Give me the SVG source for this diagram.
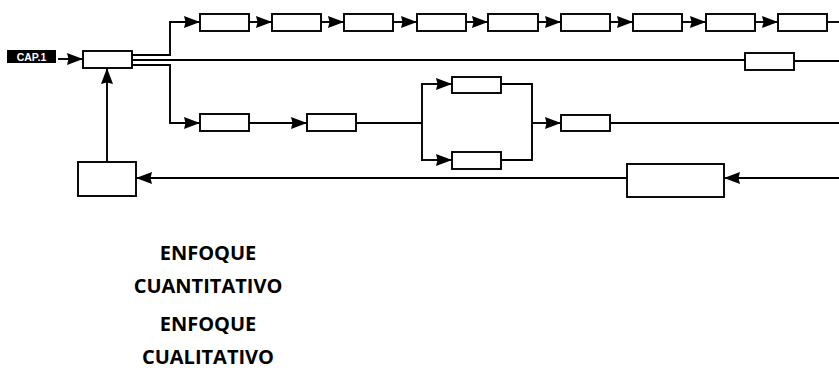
<svg xmlns="http://www.w3.org/2000/svg" width="839" height="375" viewBox="0 0 839 375">
<style>
.box{fill:#fff;stroke:#000;stroke-width:1.9}
.ln{fill:none;stroke:#000;stroke-width:1.9}
.lbl{font-family:"Open Sans","DejaVu Sans",sans-serif;font-weight:bold;font-size:20px;fill:#000;text-anchor:middle}
.cap{font-family:"Liberation Sans Narrow","Liberation Sans",sans-serif;font-weight:bold;font-size:10.5px;fill:#fff;text-anchor:middle}
</style>
<defs>
<marker id="ah" markerUnits="userSpaceOnUse" markerWidth="17" markerHeight="13" refX="16" refY="6.5" orient="auto" viewBox="0 0 17 13">
<path d="M0,0.5 L16,6.5 L0,12.5 L1.5,6.5 Z" fill="#000"/>
</marker>
</defs>
<rect width="839" height="375" fill="#fff"/>
<g id="connectors">
<line class="ln" x1="58" y1="59" x2="83" y2="59" marker-end="url(#ah)"/>
<polyline class="ln" points="132,55 170,55 170,22 200,22" marker-end="url(#ah)"/>
<line class="ln" x1="249" y1="22" x2="272" y2="22" marker-end="url(#ah)"/>
<line class="ln" x1="321" y1="22" x2="344" y2="22" marker-end="url(#ah)"/>
<line class="ln" x1="393" y1="22" x2="417" y2="22" marker-end="url(#ah)"/>
<line class="ln" x1="466" y1="22" x2="488" y2="22" marker-end="url(#ah)"/>
<line class="ln" x1="538" y1="22" x2="561" y2="22" marker-end="url(#ah)"/>
<line class="ln" x1="610" y1="22" x2="633" y2="22" marker-end="url(#ah)"/>
<line class="ln" x1="682" y1="22" x2="706" y2="22" marker-end="url(#ah)"/>
<line class="ln" x1="755" y1="22" x2="778" y2="22" marker-end="url(#ah)"/>
<line class="ln" x1="827" y1="22" x2="839" y2="22"/>
<line class="ln" x1="132" y1="60" x2="745" y2="60"/>
<line class="ln" x1="794" y1="61" x2="839" y2="61"/>
<polyline class="ln" points="132,65 170,65 170,123 200,123" marker-end="url(#ah)"/>
<line class="ln" x1="249" y1="123" x2="307" y2="123" marker-end="url(#ah)"/>
<line class="ln" x1="356" y1="123" x2="422" y2="123"/>
<line class="ln" x1="422" y1="84" x2="422" y2="161"/>
<line class="ln" x1="421" y1="84" x2="452" y2="84" marker-end="url(#ah)"/>
<line class="ln" x1="421" y1="160" x2="452" y2="160" marker-end="url(#ah)"/>
<polyline class="ln" points="501,84 532,84 532,160 501,160"/>
<line class="ln" x1="532" y1="123" x2="561" y2="123" marker-end="url(#ah)"/>
<line class="ln" x1="610" y1="123" x2="839" y2="123"/>
<line class="ln" x1="839" y1="178" x2="724" y2="178" marker-end="url(#ah)"/>
<line class="ln" x1="627" y1="178" x2="136" y2="178" marker-end="url(#ah)"/>
<line class="ln" x1="107" y1="162" x2="107" y2="68" marker-end="url(#ah)"/>
</g>
<g id="cap1"><rect x="7" y="50" width="49" height="13" fill="#000"/><text class="cap" x="31.5" y="60.5">CAP.1</text></g>
<g id="main"><rect class="box" x="83" y="51" width="49" height="17"/></g>
<g id="t1"><rect class="box" x="200" y="14" width="49" height="17"/></g>
<g id="t2"><rect class="box" x="272" y="14" width="49" height="17"/></g>
<g id="t3"><rect class="box" x="344" y="14" width="49" height="17"/></g>
<g id="t4"><rect class="box" x="417" y="14" width="49" height="17"/></g>
<g id="t5"><rect class="box" x="488" y="14" width="50" height="17"/></g>
<g id="t6"><rect class="box" x="561" y="14" width="49" height="17"/></g>
<g id="t7"><rect class="box" x="633" y="14" width="49" height="17"/></g>
<g id="t8"><rect class="box" x="706" y="14" width="49" height="17"/></g>
<g id="t9"><rect class="box" x="778" y="14" width="49" height="17"/></g>
<g id="m1"><rect class="box" x="745" y="53" width="49" height="17"/></g>
<g id="q1"><rect class="box" x="200" y="114" width="49" height="17"/></g>
<g id="q2"><rect class="box" x="307" y="114" width="49" height="17"/></g>
<g id="q3"><rect class="box" x="452" y="77" width="49" height="16"/></g>
<g id="q4"><rect class="box" x="452" y="152" width="49" height="17"/></g>
<g id="q5"><rect class="box" x="561" y="115" width="49" height="16"/></g>
<g id="f1"><rect class="box" x="627" y="164" width="97" height="33"/></g>
<g id="f2"><rect class="box" x="78" y="162" width="58" height="34"/></g>
<g id="labels">
<text class="lbl" x="208" y="260">ENFOQUE</text>
<text class="lbl" x="208" y="293">CUANTITATIVO</text>
<text class="lbl" x="208" y="331">ENFOQUE</text>
<text class="lbl" x="208" y="364">CUALITATIVO</text>
</g>
</svg>
